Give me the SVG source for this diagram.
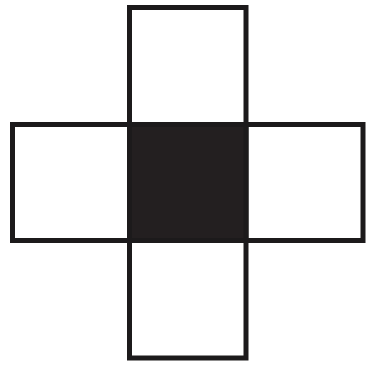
<svg xmlns="http://www.w3.org/2000/svg" width="366" height="369" viewBox="0 0 366 369">
<style>
.sq{fill:#ffffff;stroke:#1c1a1b;stroke-width:5}
.dark{fill:#231f20}
</style>
<rect width="366" height="369" fill="#ffffff"/>
<g id="top"><rect class="sq" x="129.5" y="7.5" width="116.5" height="117"/></g>
<g id="left"><rect class="sq" x="12.5" y="124.5" width="117" height="116"/></g>
<g id="right"><rect class="sq" x="246" y="124.5" width="117" height="116"/></g>
<g id="bottom"><rect class="sq" x="129.5" y="240.5" width="116.5" height="117.5"/></g>
<g id="center"><rect class="sq dark" x="129.5" y="124.5" width="116.5" height="116"/></g>
</svg>
